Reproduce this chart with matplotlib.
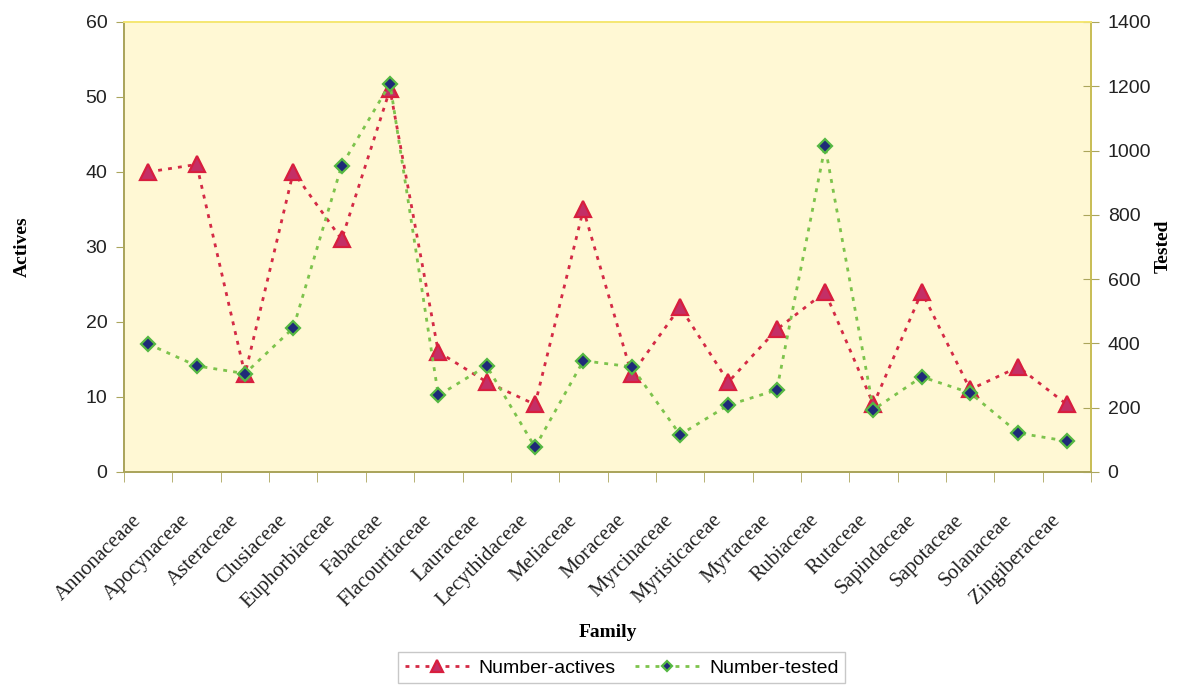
import matplotlib
matplotlib.use('Agg')
import matplotlib.pyplot as plt
import matplotlib.transforms as mtransforms
import numpy as np


families = ['Annonaceaae', 'Apocynaceae', 'Asteraceae', 'Clusiaceae', 'Euphorbiaceae',
            'Fabaceae', 'Flacourtiaceae', 'Lauraceae', 'Lecythidaceae', 'Meliaceae',
            'Moraceae', 'Myrcinaceae', 'Myristicaceae', 'Myrtaceae', 'Rubiaceae',
            'Rutaceae', 'Sapindaceae', 'Sapotaceae', 'Solanaceae', 'Zingiberaceae']
number_actives = [40, 41, 13, 40, 31, 51, 16, 12, 9, 35, 13, 22, 12, 19, 24, 9, 24, 11, 14, 9]
number_tested = [398, 330, 306, 448, 953, 1208, 238, 330, 77, 346, 327, 116, 208, 255,
                 1013, 194, 296, 246, 121, 96]
left_ticks = [0, 10, 20, 30, 40, 50, 60]
right_ticks = [0, 200, 400, 600, 800, 1000, 1200, 1400]

serif = ['Liberation Serif', 'DejaVu Serif']
sans = ['Liberation Sans', 'DejaVu Sans']
plt.rcParams['font.family'] = sans

bg = '#FFF8D4'
axis_col = '#ABA55C'
red = '#D42A45'
green = '#7DC34C'

fig = plt.figure(figsize=(11.82, 6.85), dpi=100)
ax = fig.add_axes([0.105, 0.311, 0.818, 0.657])
ax.set_facecolor(bg)
ax2 = ax.twinx()

x = np.arange(len(families))
dots = (0, (1.4, 2.2))
ax.plot(x, number_actives, linestyle=dots, lw=2.0, color=red, marker='^', markersize=11,
        markerfacecolor='#C42F66', markeredgecolor='#D81E3E', markeredgewidth=1.6,
        label='Number-actives')
ax2.plot(x, number_tested, linestyle=dots, lw=2.0, color=green, marker='D', markersize=7,
         markerfacecolor='#1E2A78', markeredgecolor='#55B843', markeredgewidth=1.6,
         label='Number-tested')

ax.set_xlim(-0.5, len(families) - 0.5)
ax.set_ylim(0, 60)
ax2.set_ylim(0, 1400)
ax.set_yticks(left_ticks)
ax2.set_yticks(right_ticks)
ax.tick_params(axis='y', direction='out', length=6, color=axis_col, labelsize=14,
               labelcolor='#222222', pad=6)
ax2.tick_params(axis='y', direction='inout', length=12, color=axis_col, labelsize=14,
                labelcolor='#222222', pad=6)

# category names at centres, tick marks at category boundaries
ax.set_xticks(x)
ax.set_xticklabels(families, rotation=45, ha='right', va='top',
                   rotation_mode='anchor', family=serif, fontsize=15, color='#222222')
ax.tick_params(axis='x', which='major', length=0, pad=12)
ax.set_xticks(np.arange(len(families) + 1) - 0.5, minor=True)
ax.tick_params(axis='x', which='minor', direction='out', length=7, color=axis_col)
shift = mtransforms.ScaledTranslation(-0.16, -0.22, fig.dpi_scale_trans)
for lbl in ax.get_xticklabels():
    lbl.set_transform(lbl.get_transform() + shift)

for a in (ax, ax2):
    a.spines['left'].set_color(axis_col)
    a.spines['bottom'].set_color(axis_col)
    a.spines['right'].set_color('#C9BE57')
    a.spines['top'].set_color('#F5E774')
    for s in a.spines.values():
        s.set_linewidth(1.3)

fig.text(0.019, 0.64, 'Actives', rotation=90, ha='center', va='center',
         family=serif, fontsize=14, fontweight='bold')
fig.text(0.984, 0.64, 'Tested', rotation=90, ha='center', va='center',
         family=serif, fontsize=14, fontweight='bold')
fig.text(0.514, 0.077, 'Family', ha='center', va='center',
         family=serif, fontsize=14, fontweight='bold')

h1, l1 = ax.get_legend_handles_labels()
h2, l2 = ax2.get_legend_handles_labels()
leg = fig.legend(h1 + h2, l1 + l2, loc='upper center', bbox_to_anchor=(0.526, 0.048),
                 ncol=2, frameon=True, fancybox=False, edgecolor='#BBBBBB',
                 fontsize=14, handlelength=3.3, columnspacing=1.0, handletextpad=0.5,
                 borderpad=0.35, borderaxespad=0, markerscale=0.8)
leg.get_frame().set_linewidth(1.0)

fig.savefig('out.png', dpi=100)
